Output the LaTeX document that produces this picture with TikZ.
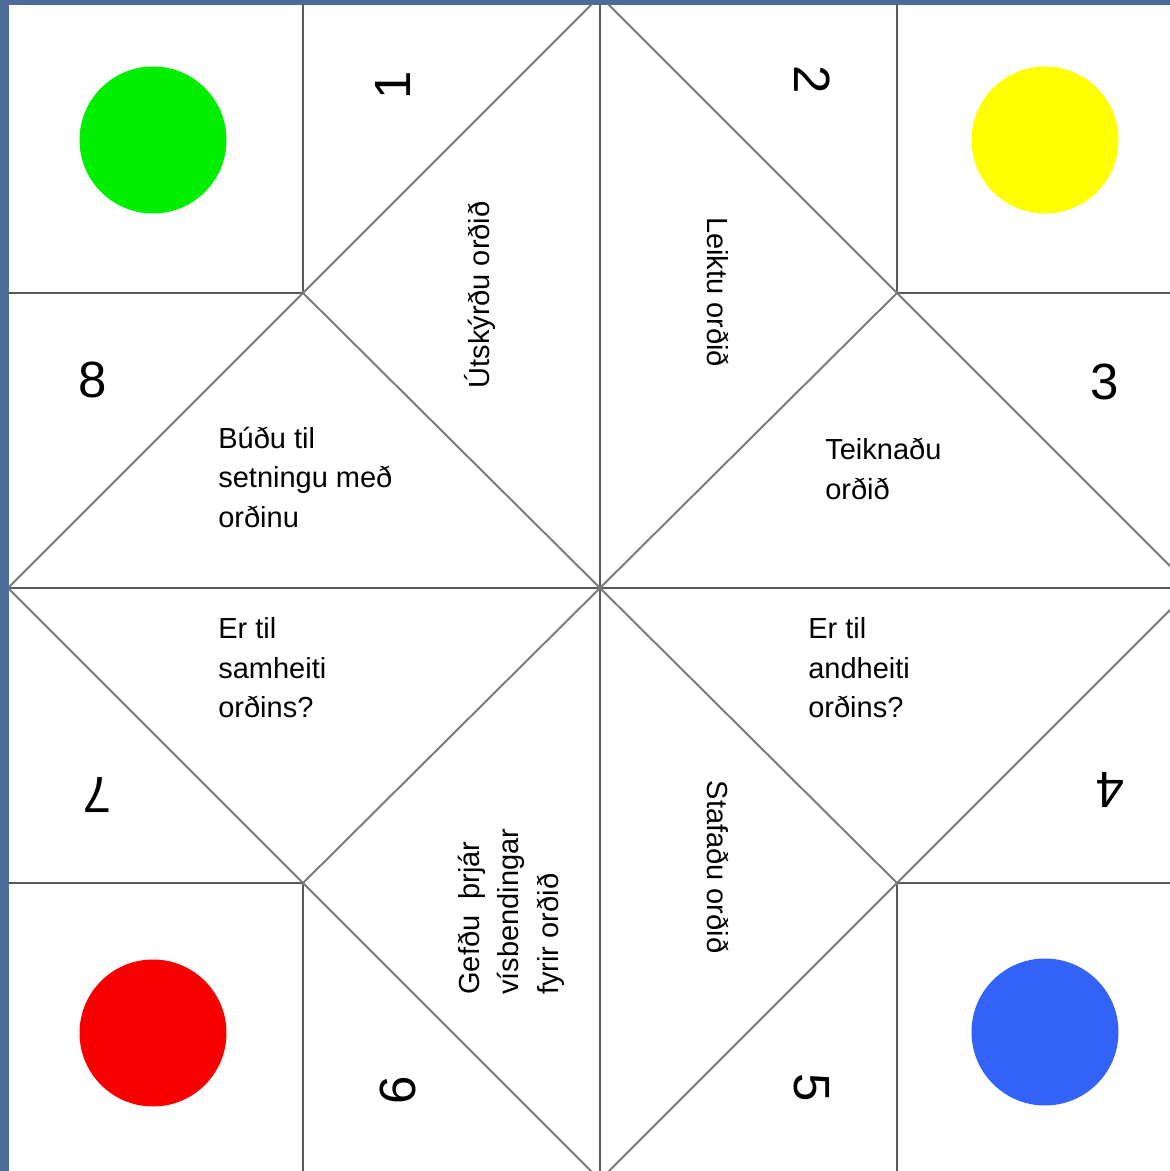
\documentclass[tikz,border=0pt]{standalone}
\usepackage{fontspec}
\setmainfont{Liberation Sans}
\usepackage{tikz}
\usepackage{xcolor}
\usetikzlibrary{positioning}

\definecolor{slideblue}{HTML}{4A6C97}
\definecolor{foldgray}{HTML}{5A5A5A}
\definecolor{diaggray}{HTML}{7A7A7A}
\definecolor{dotgreen}{HTML}{00EE00}
\definecolor{dotyellow}{HTML}{FFFF00}
\definecolor{dotred}{HTML}{F80000}
\definecolor{dotblue}{HTML}{3362F8}

\begin{document}
\begin{tikzpicture}[
        x=0.02cm, y=0.02cm,
        every node/.style={inner sep=0pt},
        fold/.style={draw=foldgray, line width=1.2pt},
        crease/.style={draw=diaggray, line width=1.1pt},
        dot/.style={circle, minimum size=2.94cm},
        task/.style={font=\fontsize{16.5}{22.5}\selectfont, align=left},
        number/.style={font=\fontsize{29}{29}\selectfont}
    ]
        % slide background and paper
        \fill[slideblue] (0,0) rectangle (1170,1171);
        \fill[white] (9,0) rectangle (1170,1166);
        \useasboundingbox (0,0) rectangle (1170,1171);

        \coordinate (c) at (600,583);
        \coordinate (nw) at (303,878);
        \coordinate (ne) at (897,878);
        \coordinate (sw) at (303,288);
        \coordinate (se) at (897,288);
        \coordinate (top) at (600,1175);
        \coordinate (rgt) at (1192,583);
        \coordinate (bot) at (600,-9);
        \coordinate (lft) at (8,583);

        \begin{scope}
            \clip (9,0) rectangle (1170,1166);
            % straight folds
            \draw[fold] (600,-20) -- (600,1190);
            \draw[fold] (0,583) -- (1200,583);
            \draw[fold] (nw) -- (303,1190);
            \draw[fold] (nw) -- (0,878);
            \draw[fold] (ne) -- (897,1190);
            \draw[fold] (ne) -- (1200,878);
            \draw[fold] (sw) -- (303,-20);
            \draw[fold] (sw) -- (0,288);
            \draw[fold] (se) -- (897,-20);
            \draw[fold] (se) -- (1200,288);
            % diagonal folds
            \draw[crease] (top) -- (rgt) -- (bot) -- (lft) -- cycle;
            \draw[crease] (nw) -- (se);
            \draw[crease] (ne) -- (sw);
        \end{scope}

        % colour dots
        \node[dot, fill=dotgreen] (green) at (153,1031) {};
        \node[dot, fill=dotyellow] (yellow) at (1045,1031) {};
        \node[dot, fill=dotred] (red) at (153,138) {};
        \node[dot, fill=dotblue] (blue) at (1045,139) {};

        % numbers
        \node[number, rotate=90] (n1) at (393,1086) {1};
        \node[number, rotate=-90] (n2) at (812,1091) {2};
        \node[number] (n3) at (1105,789) {3};
        \node[number, rotate=180] (n4) at (1110,381) {4};
        \node[number, rotate=-90] (n5) at (812,83) {5};
        \node[number, rotate=90] (n6) at (398,81) {6};
        \node[number, rotate=180] (n7) at (97,376) {7};
        \node[number] (n8) at (93,791) {8};

        % tasks
        \node[task, rotate=90] (explain) at (480,876) {Útskýrðu orðið};
        \node[task, rotate=-90] (act) at (718,879) {Leiktu orðið};
        \node[task, anchor=west] (sentence) at (218,694) {Búðu til\\setningu með\\orðinu};
        \node[task, anchor=west] (draw) at (825,702) {Teiknaðu\\ orðið};
        \node[task, anchor=west] (synonym) at (218,503) {Er til\\samheiti\\orðins?};
        \node[task, anchor=west] (antonym) at (808,503) {Er til\\andheiti\\orðins?};
        \node[task, rotate=90, anchor=west] (clues) at (511,176) {Gefðu\ \ þrjár\\vísbendingar\\fyrir orðið};
        \node[task, rotate=-90] (spell) at (718,304) {Stafaðu orðið};
    \end{tikzpicture}
\end{document}
